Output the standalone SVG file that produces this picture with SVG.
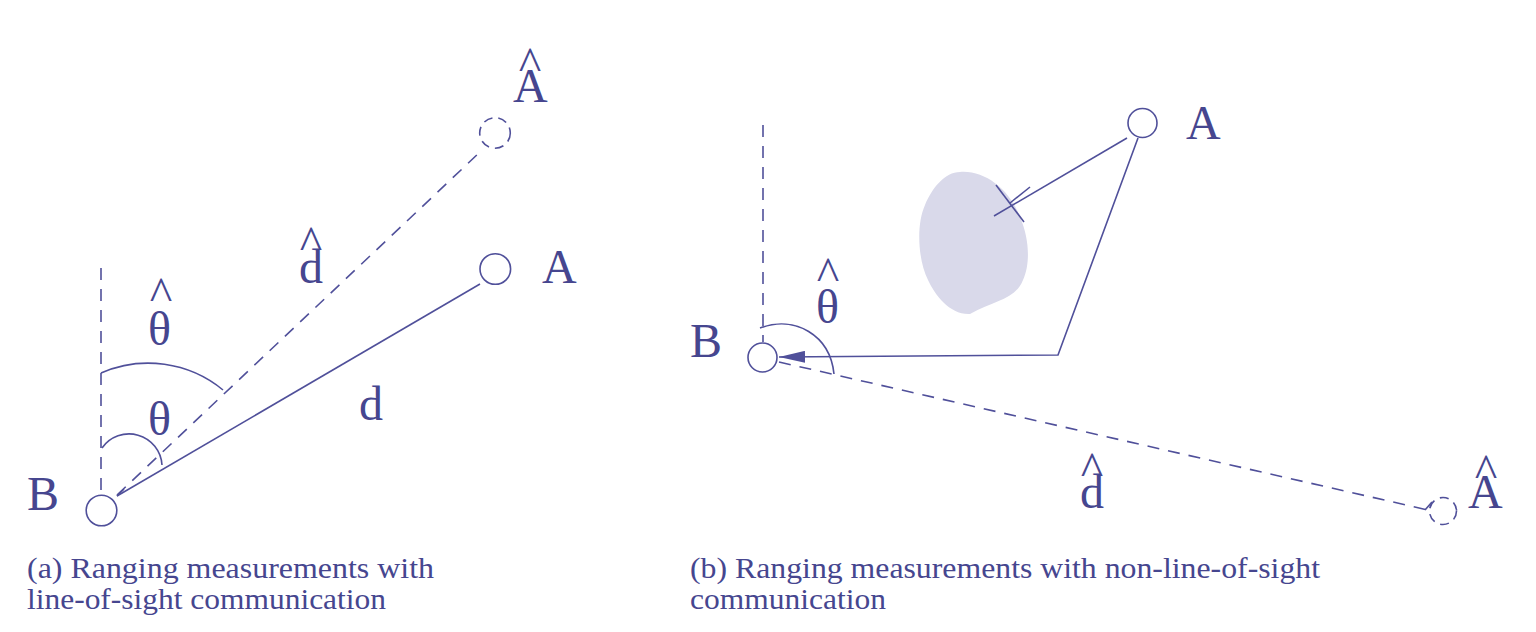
<svg xmlns="http://www.w3.org/2000/svg" width="1536" height="632" viewBox="0 0 1536 632">
<style>
.ln{fill:none;stroke:#50509a;stroke-width:1.6}
.dash{stroke-dasharray:12 9}
.dc{fill:none;stroke:#50509a;stroke-width:1.6;stroke-dasharray:9 6}
.nd{fill:#fff;stroke:#50509a;stroke-width:1.6}
.lbl{font-family:"Liberation Serif","Times New Roman",serif;font-size:48px;fill:#46468f}
.hat{text-anchor:middle}
.cap{font-family:"Liberation Serif","Times New Roman",serif;font-size:30px;fill:#46468f}
</style>
<defs>
<marker id="arr" viewBox="0 0 26 12" refX="26" refY="6" markerWidth="26" markerHeight="12" markerUnits="userSpaceOnUse" orient="auto">
<path d="M0,0 L26,6 L0,12 Z" fill="#50509a"/>
</marker>
</defs>
<rect width="1536" height="632" fill="#fff"/>
<path id="obstacle" d="M960,172 C985,170 1010,190 1020,217 C1030,240 1030,265 1023,280 C1015,300 995,300 970,314 C950,315 935,295 928,280 C918,260 916,225 925,205 C932,188 945,172 960,172 Z" fill="#d9d9ea"/>
<g id="connectors">
<line class="ln dash" x1="101" y1="268" x2="101" y2="495"/>
<line class="ln" x1="117" y1="496" x2="480" y2="284"/>
<line class="ln" x1="117" y1="496" x2="124" y2="489"/>
<line class="ln dash" x1="117" y1="495" x2="480" y2="152"/>
<path class="ln" d="M101,373 A118,118 0 0 1 223,390"/>
<path class="ln" d="M102,448 A33,33 0 0 1 162,465"/>
<line class="ln dash" x1="763" y1="125" x2="763" y2="342"/>
<path class="ln" d="M1138,138 L1058,355 L779,357" marker-end="url(#arr)"/>
<line class="ln" x1="1127" y1="138" x2="994" y2="216"/>
<line class="ln" x1="996" y1="185" x2="1024" y2="222"/>
<line class="ln" x1="1030" y1="187" x2="1010" y2="203"/>
<path class="ln" d="M760,328 C795,315 830,335 834,374"/>
<line class="ln dash" x1="779" y1="362" x2="1428" y2="510"/>
<line class="ln" x1="1425" y1="510" x2="1432" y2="502"/>
</g>
<g id="nodeB1"><circle class="nd" cx="101.5" cy="510.5" r="15.3"/><text class="lbl" x="27" y="510">B</text></g>
<g id="nodeA1"><circle class="nd" cx="495.3" cy="269" r="15.3"/><text class="lbl" x="542" y="283">A</text></g>
<g id="nodeAhat1"><circle class="dc" cx="495" cy="133" r="15.3"/><text class="lbl" x="513" y="102">A<tspan class="hat" x="530" y="80">^</tspan></text></g>
<g id="labels1">
<text class="lbl" x="148" y="345">θ<tspan class="hat" x="161" y="310">^</tspan></text>
<text class="lbl" x="148" y="435">θ</text>
<text class="lbl" x="359" y="420">d</text>
<text class="lbl" x="299" y="283">d<tspan class="hat" x="311" y="259">^</tspan></text>
</g>
<g id="nodeB2"><circle class="nd" cx="762.5" cy="357.5" r="14.5"/><text class="lbl" x="690" y="357">B</text></g>
<g id="nodeA2"><circle class="nd" cx="1142.5" cy="123" r="14.5"/><text class="lbl" x="1186" y="139">A</text></g>
<g id="nodeAhat2"><circle class="dc" cx="1443" cy="511" r="13.5"/><text class="lbl" x="1468" y="508">A<tspan class="hat" x="1486" y="487">^</tspan></text></g>
<g id="labels2">
<text class="lbl" x="816" y="323">θ<tspan class="hat" x="828" y="290">^</tspan></text>
<text class="lbl" x="1080" y="508">d<tspan class="hat" x="1092" y="485">^</tspan></text>
</g>
<g id="captions">
<text class="cap" x="27" y="578" textLength="407" lengthAdjust="spacingAndGlyphs">(a)  Ranging measurements with</text>
<text class="cap" x="27" y="609" textLength="359" lengthAdjust="spacingAndGlyphs">line-of-sight communication</text>
<text class="cap" x="690" y="578" textLength="630" lengthAdjust="spacingAndGlyphs">(b)  Ranging measurements with non-line-of-sight</text>
<text class="cap" x="690" y="609" textLength="196" lengthAdjust="spacingAndGlyphs">communication</text>
</g>
</svg>
